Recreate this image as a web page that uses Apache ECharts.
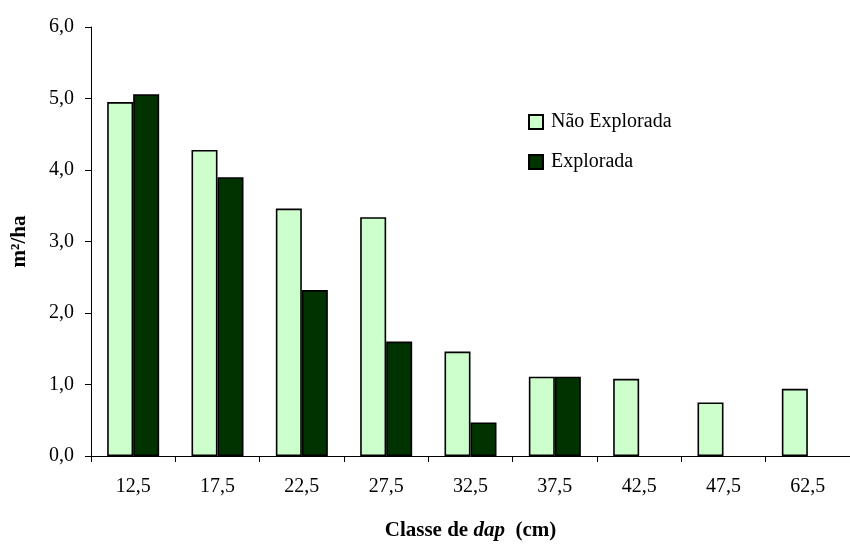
<!DOCTYPE html>
<html>
<head>
<meta charset="utf-8">
<script src="https://cdn.jsdelivr.net/npm/echarts@6/dist/echarts.min.js"></script>
<style>html,body{margin:0;padding:0;background:#fff}#c{width:850px;height:546px}</style>
</head>
<body>
<div id="c"></div>
<script>
var categories = ['12,5','17,5','22,5','27,5','32,5','37,5','42,5','47,5','62,5'];
var naoExplorada = [4.95, 4.28, 3.46, 3.34, 1.46, 1.11, 1.08, 0.75, 0.94];
var explorada = [5.06, 3.90, 2.32, 1.60, 0.47, 1.11, null, null, null];
var yTicks = [0, 1, 2, 3, 4, 5, 6];

var FONT = '"Liberation Serif", "Times New Roman", serif';
var chart = echarts.init(document.getElementById('c'), null, {renderer: 'canvas'});
chart.setOption({
  animation: false,
  backgroundColor: '#fff',
  grid: {left: 91, top: 27, width: 768, height: 434},
  legend: {
    orient: 'vertical', left: 523, top: 107, itemGap: 20,
    itemWidth: 14, itemHeight: 14, icon: 'rect',
    textStyle: {fontFamily: FONT, fontSize: 20, color: '#000', lineHeight: 20, padding: [0, 0, 0, 3]},
    data: ['Não Explorada', 'Explorada']
  },
  xAxis: {
    type: 'category', data: categories,
    axisLine: {lineStyle: {color: '#000', width: 1}},
    axisTick: {show: true, length: 6, lineStyle: {color: '#000'}},
    axisLabel: {fontFamily: FONT, fontSize: 20, color: '#000', margin: 21},
    name: '{b|Classe de }{bi|dap}{b|  (cm)}',
    nameLocation: 'middle', nameGap: 64,
    nameTextStyle: {
      rich: {
        b: {fontFamily: FONT, fontSize: 21, fontWeight: 'bold', color: '#000'},
        bi: {fontFamily: FONT, fontSize: 21, fontWeight: 'bold', fontStyle: 'italic', color: '#000'}
      }
    }
  },
  yAxis: {
    type: 'value', min: yTicks[0], max: yTicks[yTicks.length-1], interval: 1,
    splitLine: {show: false},
    axisLine: {show: true, lineStyle: {color: '#000', width: 1}},
    axisTick: {show: true, length: 6, lineStyle: {color: '#000'}},
    axisLabel: {fontFamily: FONT, fontSize: 20, color: '#000', margin: 17,
      formatter: function (v) { return v.toFixed(1).replace('.', ','); }},
    name: 'm²/ha', nameLocation: 'middle', nameGap: 61, nameRotate: 90,
    nameTextStyle: {fontFamily: FONT, fontSize: 21, fontWeight: 'bold', color: '#000'}
  },
  series: [
    {name: 'Não Explorada', type: 'bar', data: naoExplorada, barWidth: 26, barGap: '0%',
     itemStyle: {color: '#CCFFCC', borderColor: '#000', borderWidth: 1.6}},
    {name: 'Explorada', type: 'bar', data: explorada, barWidth: 26, barGap: '0%',
     itemStyle: {color: '#003300', borderColor: '#000', borderWidth: 1.6}}
  ]
});
</script>
</body>
</html>
